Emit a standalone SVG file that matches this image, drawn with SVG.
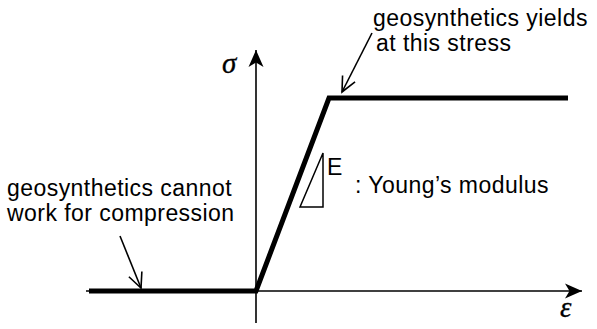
<svg xmlns="http://www.w3.org/2000/svg" width="597" height="329" viewBox="0 0 597 329">
<style>
.t{font-family:"Liberation Sans",Arial,sans-serif;font-size:23px;letter-spacing:0.45px;fill:#000}
.g{font-family:"Liberation Serif","Times New Roman",serif;font-style:italic;font-size:29px;fill:#000;stroke:#000;stroke-width:0.3}
.axis{stroke:#000;stroke-width:1.6;fill:none}
.curve{stroke:#000;stroke-width:5;fill:none;stroke-linejoin:miter}
.lead{stroke:#000;stroke-width:1.6;fill:none}
</style>
<defs>
<marker id="solid" markerUnits="userSpaceOnUse" markerWidth="20" markerHeight="18" viewBox="-18 -9 20 18" refX="0" refY="0" orient="auto">
<path d="M0,0 L-17,-7.5 L-12.5,0 L-17,7.5 Z" fill="#000"/>
</marker>
<marker id="open" markerUnits="userSpaceOnUse" markerWidth="20" markerHeight="20" viewBox="-18 -10 20 20" refX="0" refY="0" orient="auto">
<path d="M-15,-7 L0,0 L-15,7" fill="none" stroke="#000" stroke-width="1.6"/>
</marker>
</defs>
<g id="connectors">
<line id="y-axis" class="axis" x1="256" y1="323" x2="256" y2="50" marker-end="url(#solid)"/>
<line id="x-axis" class="axis" x1="86" y1="291" x2="582" y2="291" marker-end="url(#solid)"/>
<polyline id="stress-strain" class="curve" points="89,291 256,291 329,98 568,98"/>
<line id="yield-leader" class="lead" x1="372" y1="33" x2="342" y2="92" marker-end="url(#open)"/>
<line id="compression-leader" class="lead" x1="120" y1="236" x2="141" y2="288" marker-end="url(#open)"/>
</g>
<g id="sigma-label"><text class="g" x="222" y="73">σ</text></g>
<g id="epsilon-label"><text class="g" x="560" y="317">ε</text></g>
<g id="yield-note">
<text class="t" x="373" y="26">geosynthetics yields</text>
<text class="t" x="376" y="51">at this stress</text>
</g>
<g id="compression-note">
<text class="t" x="7" y="196">geosynthetics cannot</text>
<text class="t" x="7" y="221">work for compression</text>
</g>
<g id="modulus">
<polygon points="323,153 323,207 300,207" fill="none" stroke="#000" stroke-width="1.5"/>
<text class="t" x="327" y="175">E</text>
<text class="t" x="355" y="193">: Young’s modulus</text>
</g>
</svg>
